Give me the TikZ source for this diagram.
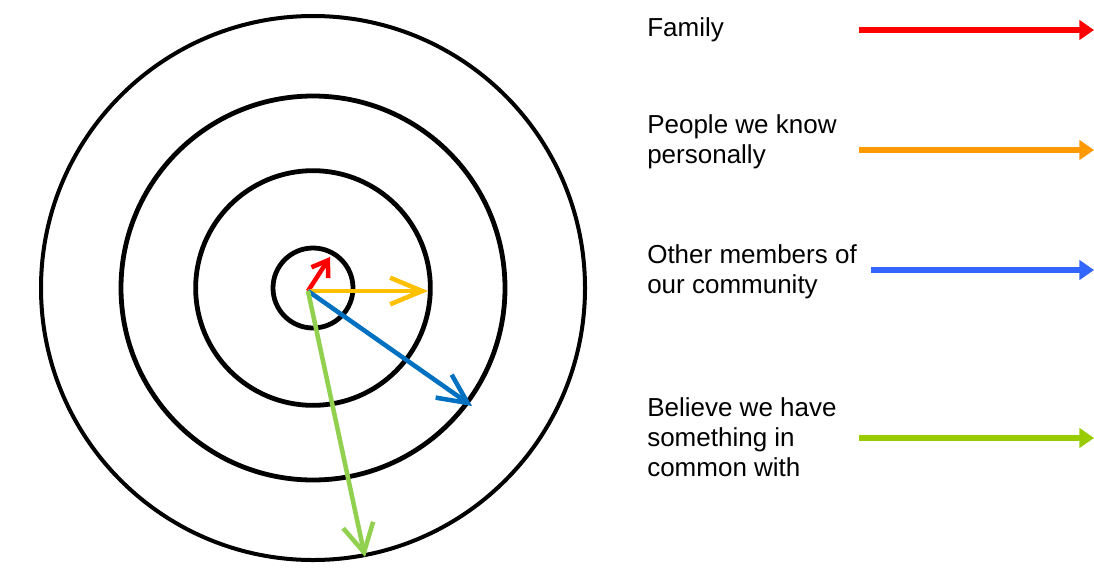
\documentclass[tikz,border=0pt]{standalone}
\usepackage{fontspec}
\setmainfont{Liberation Sans}
\usetikzlibrary{arrows.meta}
\definecolor{famred}{RGB}{255,0,0}
\definecolor{knownorange}{RGB}{255,192,0}
\definecolor{commblue}{RGB}{0,112,192}
\definecolor{sharedgreen}{RGB}{146,208,80}
\definecolor{keyorange}{RGB}{255,153,0}
\definecolor{keyblue}{RGB}{51,102,255}
\definecolor{keygreen}{RGB}{153,204,0}
\begin{document}
\begin{tikzpicture}[x=0.75pt,y=-0.75pt,
  ring/.style={line width=3.6pt},
  spoke/.style={line width=3.4pt},
  keyarrow/.style={line width=4.5pt,-{Triangle[length=11pt,width=14.5pt]}},
  keytext/.style={anchor=base west,align=left,inner sep=0pt,
    font=\fontsize{19.5}{22.5}\selectfont}]
 \useasboundingbox (0,0) rectangle (1094,568);
 % the rings
 \coordinate (c) at (313,288);
 \draw[ring] (c) circle[radius=30pt];
 \draw[ring] (c) circle[radius=88pt];
 \draw[ring] (c) circle[radius=144pt];
 \draw[ring,line width=3pt] (c) circle[radius=204pt];
 % spokes from the middle
 \coordinate (o) at (308,291);
 \coordinate (family) at (330,257);
 \coordinate (known) at (428,291);
 \coordinate (community) at (472,406);
 \coordinate (common) at (365,557);
 \draw[spoke,famred,-{Straight Barb[length=11pt,width=15pt]}] (o) -- (family);
 \draw[spoke,knownorange,-{Straight Barb[length=24pt,width=20pt]}] (o) -- (known);
 \draw[spoke,commblue,-{Straight Barb[length=22pt,width=21pt]}] (o) -- (community);
 \draw[spoke,sharedgreen,-{Straight Barb[length=21pt,width=23pt]}] (o) -- (common);
 % key (base anchor sits on the last line)
 \node[keytext] (t1) at (647,36) {Family};
 \node[keytext] (t2) at (647,163.5) {People we know\\personally};
 \node[keytext] (t3) at (647,293.5) {Other members of\\our community};
 \node[keytext] (t4) at (647,476) {Believe we have\\something in\\common with};
 \coordinate (k1) at (859,30);   \coordinate (e1) at (1094,30);
 \coordinate (k2) at (859,150);  \coordinate (e2) at (1094,150);
 \coordinate (k3) at (871,270);  \coordinate (e3) at (1094,270);
 \coordinate (k4) at (859,438);  \coordinate (e4) at (1094,438);
 \draw[keyarrow,famred] (k1) -- (e1);
 \draw[keyarrow,keyorange] (k2) -- (e2);
 \draw[keyarrow,keyblue] (k3) -- (e3);
 \draw[keyarrow,keygreen] (k4) -- (e4);
\end{tikzpicture}
\end{document}
